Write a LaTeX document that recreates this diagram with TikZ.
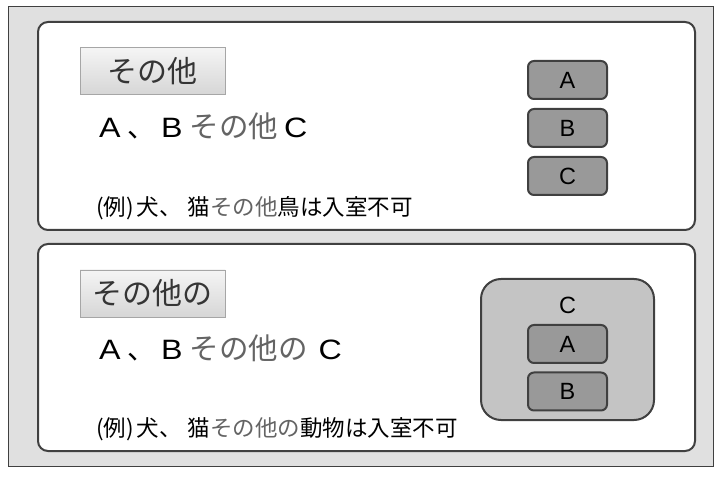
\documentclass[tikz,border=0pt]{standalone}
\usepackage{fontspec}
\setmainfont{Liberation Sans}
\newfontfamily\jp{Noto Sans CJK JP}
\newfontfamily\latw[FakeStretch=1.15]{Liberation Sans}
\usetikzlibrary{positioning}

\definecolor{framegray}{HTML}{E0E0E0}
\definecolor{edgegray}{HTML}{404040}
\definecolor{itemgray}{HTML}{999999}
\definecolor{groupgray}{HTML}{C4C4C4}
\definecolor{wordgray}{HTML}{646464}
\definecolor{titlegray}{HTML}{353535}

\newcommand{\gw}[1]{\textcolor{wordgray}{#1}}
\newcommand{\bigjp}[1]{{\jp\fontsize{29.5}{34}\selectfont\gw{#1}}}

\tikzset{
  panel/.style={draw=edgegray, line width=2pt, fill=white, rounded corners=10pt},
  titlebox/.style={draw=black!35, line width=0.8pt, top color=black!4, bottom color=black!16,
    minimum width=145pt, minimum height=47pt, inner sep=0pt, text=titlegray,
    font=\jp\fontsize{30}{34}\selectfont},
  itembox/.style={draw=edgegray, line width=2pt, fill=itemgray, rounded corners=6pt,
    minimum width=79pt, minimum height=38pt, inner sep=0pt,
    font=\fontsize{23.5}{27}\selectfont},
  groupbox/.style={draw=edgegray, line width=2pt, fill=groupgray, rounded corners=20pt,
    minimum width=173pt, minimum height=141pt, inner sep=0pt},
  mainline/.style={anchor=base west, inner sep=0pt, font=\latw\fontsize{28}{32}\selectfont},
  exline/.style={anchor=base west, inner sep=0pt, font=\jp\fontsize{22.5}{26}\selectfont}
}

\begin{document}
\begin{tikzpicture}[x=1pt,y=-1pt]
  \useasboundingbox (0,0) rectangle (726,478);
  % outer frame and the two panels
  \node[draw=edgegray, line width=0.8pt, fill=framegray, minimum width=705pt, minimum height=460pt,
        inner sep=0pt] (frame) at (360.5,236) {};
  \node[panel, minimum width=657pt, minimum height=208pt] (upper) at (366.5,126) {};
  \node[panel, minimum width=657pt, minimum height=207pt] (lower) at (366.5,347.5) {};

  % Upper panel: その他
  \node[titlebox] (tUpper) at (152.5,71) {その他};
  \node[mainline] (lineUpper) at (99,138)
    {A\hspace{6.5pt}{\jp 、}\hspace{6pt}B\hspace{7pt}\bigjp{その他}\hspace{6pt}C};
  \node[exline] (exUpper) at (96,216) {(例)\hspace{3pt}犬、\hspace{6pt}猫\gw{その他}鳥は入室不可};

  \node[itembox] (a1) at (567.5,80)  {A};
  \node[itembox] (b1) at (567.5,128) {B};
  \node[itembox] (c1) at (567.5,176) {C};

  % Lower panel: その他の
  \node[titlebox] (tLower) at (152.5,293.5) {その他の};
  \node[mainline] (lineLower) at (99,360)
    {A\hspace{6.5pt}{\jp 、}\hspace{6pt}B\hspace{7pt}\bigjp{その他の}\hspace{11pt}C};
  \node[exline] (exLower) at (96,436) {(例)\hspace{3pt}犬、\hspace{6pt}猫\gw{その他の}動物は入室不可};

  \node[groupbox] (grp) at (567.5,349.5) {};
  \node[font=\fontsize{23.5}{27}\selectfont, inner sep=0pt] (c2) at (567.5,305) {C};
  \node[itembox] (a2) at (567.5,344)   {A};
  \node[itembox] (b2) at (567.5,391.5) {B};
\end{tikzpicture}
\end{document}
